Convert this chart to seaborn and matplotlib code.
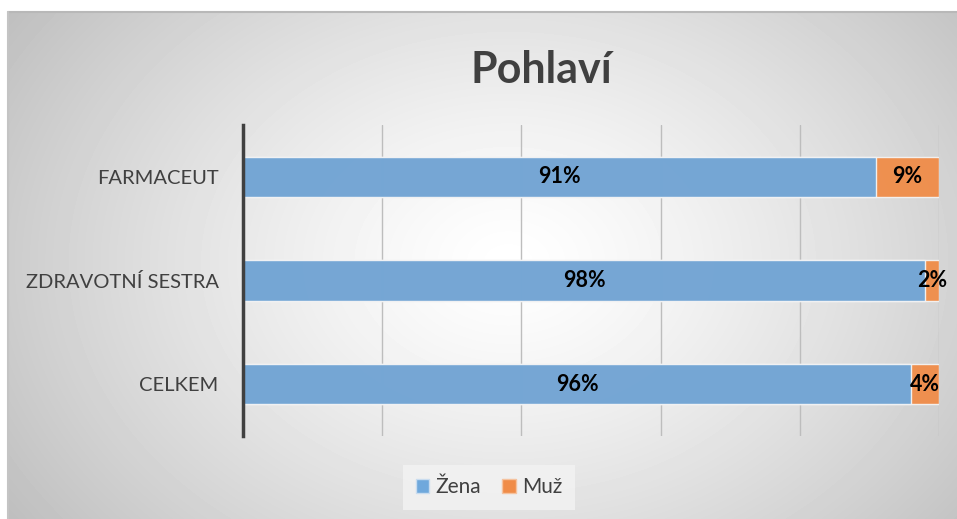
import numpy as np
import pandas as pd
import matplotlib.pyplot as plt
import matplotlib.patches as mpatches
import seaborn as sns

kategorie = ['FARMACEUT', 'ZDRAVOTNÍ SESTRA', 'CELKEM']
zena = [91, 98, 96]
muz = [9, 2, 4]

modra = '#6FA8DC'
oranzova = '#F08C48'
text_barva = '#404040'

df = pd.DataFrame({'kategorie': kategorie, 'zena': zena, 'muz': muz})
df['celkem'] = df['zena'] + df['muz']

sns.set_theme(style='white')
plt.rcParams['font.family'] = ['Lato', 'DejaVu Sans']

fig = plt.figure(figsize=(9.57, 5.19), dpi=100)
fig.patch.set_facecolor('white')

# pozadí s radiálním přechodem
bg = fig.add_axes([8 / 957, 0, 1 - 8 / 957, 1 - 12 / 519], zorder=0)
yy, xx = np.mgrid[0:507, 0:949]
r = np.sqrt(((xx - 500) / 560) ** 2 + ((yy - 250) / 420) ** 2)
shade = 1 - 0.23 * np.clip(r, 0, 1.2) ** 1.3
bg.imshow(shade, cmap='gray', vmin=0, vmax=1, aspect='auto', interpolation='bilinear')
bg.set_axis_off()
fig.add_artist(plt.Line2D([8 / 957, 1], [1 - 12 / 519] * 2, color='#b8b8b8', lw=1.5))
fig.add_artist(plt.Line2D([8 / 957] * 2, [0, 1 - 12 / 519], color='#c4c4c4', lw=1.5))

ax = fig.add_axes([243 / 957, 1 - 436 / 519, (939 - 243) / 957, (436 - 125) / 519], zorder=1)
ax.set_facecolor('none')

sns.barplot(data=df, x='celkem', y='kategorie', orient='h', color=oranzova,
            width=0.39, saturation=1, edgecolor='#f4f4f4', linewidth=1, alpha=0.95, ax=ax)
sns.barplot(data=df, x='zena', y='kategorie', orient='h', color=modra,
            width=0.39, saturation=1, edgecolor='#f4f4f4', linewidth=1, alpha=0.95, ax=ax)

for i, row in df.iterrows():
    ax.text(row['zena'] / 2, i, f"{row['zena']}%", ha='center', va='center',
            fontsize=15.5, fontweight='bold', color='black', zorder=5)
    ax.text(row['zena'] + row['muz'] / 2, i, f"{row['muz']}%", ha='center', va='center',
            fontsize=15.5, fontweight='bold', color='black', zorder=5)

ax.set_xlim(0, 100)
ax.set_ylim(2.5, -0.5)
ax.set_xticks(range(0, 101, 20))
ax.set_xticklabels([])
ax.set_axisbelow(True)
ax.grid(axis='x', color='#bdbdbd', lw=1)
ax.set_xlabel('')
ax.set_ylabel('')
ax.tick_params(axis='y', length=0, pad=17.5, labelsize=14.5, labelcolor=text_barva)
ax.tick_params(axis='x', length=0)
for s in ['top', 'right', 'bottom']:
    ax.spines[s].set_visible(False)
ax.spines['left'].set_color('#404040')
ax.spines['left'].set_linewidth(2.5)

fig.text(541 / 957, 1 - 70 / 519, 'Pohlaví', ha='center', va='center',
         fontsize=31, fontweight='bold', color=text_barva)

handles = [mpatches.Patch(facecolor=modra, edgecolor='#c9dcef', label='Žena'),
           mpatches.Patch(facecolor=oranzova, edgecolor='#f5c29e', label='Muž')]
leg = fig.legend(handles=handles, loc='center', bbox_to_anchor=(489 / 957, 1 - 487 / 519),
                 ncol=2, frameon=True, fontsize=15, handlelength=0.65, handleheight=0.65,
                 handletextpad=0.3, columnspacing=1.0, borderpad=0.6, fancybox=False)
leg.get_frame().set_facecolor('#f3f3f3')
leg.get_frame().set_edgecolor('none')
for t in leg.get_texts():
    t.set_color(text_barva)

fig.savefig('out.png', dpi=100)
